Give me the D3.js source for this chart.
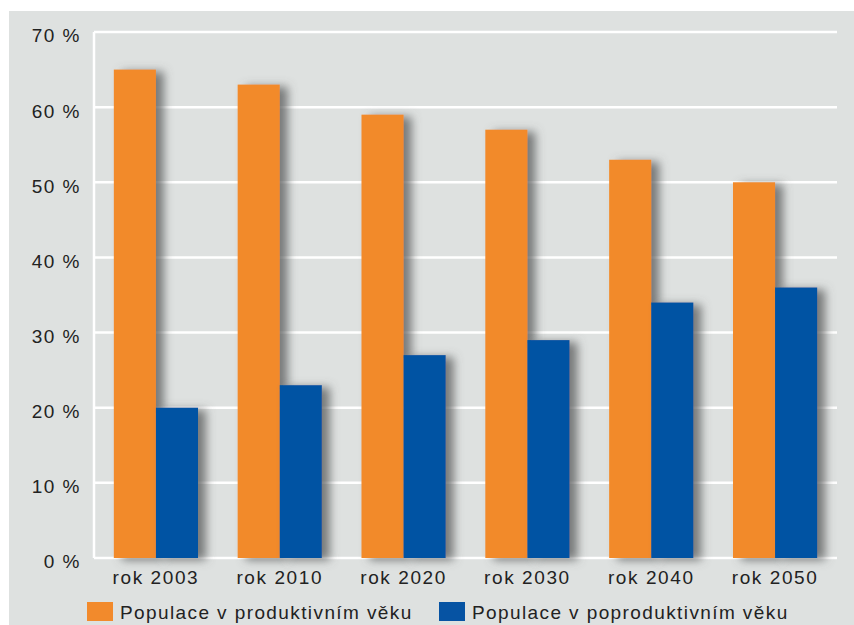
<!DOCTYPE html>
<html>
<head>
<meta charset="utf-8">
<script src="https://cdn.jsdelivr.net/npm/d3@7"></script>
<style>
  body { margin: 0; background: #fff; }
  text { font-family: "Liberation Sans", Arial, sans-serif; fill: #222; }
</style>
</head>
<body>
<svg id="vis"></svg>
<script>
// Datos del gráfico
const roky = ["rok 2003", "rok 2010", "rok 2020", "rok 2030", "rok 2040", "rok 2050"];
const produktivni = [65, 63, 59, 57, 53, 50];
const poproduktivni = [20, 23, 27, 29, 34, 36];
const serie = ["Populace v produktivním věku", "Populace v poproduktivním věku"];
const ticksY = [0, 10, 20, 30, 40, 50, 60, 70];

const WIDTH = 854;
const HEIGHT = 625;
const MARGIN = { top: 32, bottom: 67, left: 94, right: 17 };
const COLORS = ["#F28A2C", "#0653A3"];
const FUENTE = 19;

const svg = d3.select("#vis")
    .attr("width", WIDTH)
    .attr("height", HEIGHT);

// sombra de las barras
const defs = svg.append("defs");
defs.append("filter")
    .attr("id", "sombra")
    .attr("x", "-20%").attr("y", "-10%")
    .attr("width", "170%").attr("height", "130%")
    .append("feDropShadow")
    .attr("dx", 8).attr("dy", 2)
    .attr("stdDeviation", 5)
    .attr("flood-color", "#5f6161")
    .attr("flood-opacity", 0.8);

// fondo gris
svg.append("rect")
    .attr("x", 9).attr("y", 11)
    .attr("width", WIDTH - 9).attr("height", HEIGHT - 11)
    .attr("fill", "#DEE1E0");

const escalaY = d3.scaleLinear()
    .domain([0, 70])
    .range([HEIGHT - MARGIN.bottom, MARGIN.top]);

const escalaX = d3.scaleBand()
    .domain(roky)
    .range([MARGIN.left, WIDTH - MARGIN.right])
    .paddingInner(0.32)
    .paddingOuter(0.16);

const escalaSub = d3.scaleBand()
    .domain([0, 1])
    .range([0, escalaX.bandwidth()]);

// rejilla
svg.append("g")
    .selectAll("line")
    .data(ticksY)
    .join("line")
    .attr("x1", MARGIN.left)
    .attr("x2", WIDTH - MARGIN.right)
    .attr("y1", d => escalaY(d))
    .attr("y2", d => escalaY(d))
    .attr("stroke", "#fff")
    .attr("stroke-width", 2.5);

svg.append("line")
    .attr("x1", MARGIN.left).attr("x2", MARGIN.left)
    .attr("y1", escalaY(70)).attr("y2", escalaY(0))
    .attr("stroke", "#fff")
    .attr("stroke-width", 2.5);

// eje Y
const ejeY = d3.axisLeft(escalaY)
    .tickValues(ticksY)
    .tickSize(0)
    .tickPadding(13)
    .tickFormat(d => d + " %");
svg.append("g")
    .attr("transform", `translate(${MARGIN.left},0)`)
    .call(ejeY)
    .call(g => g.select(".domain").remove())
    .selectAll("text")
    .attr("dy", "0.52em")
    .attr("font-size", FUENTE)
    .attr("letter-spacing", 1.5)
    .style("font-family", "Liberation Sans, Arial, sans-serif")
    .attr("fill", "#222");

// eje X
const ejeX = d3.axisBottom(escalaX).tickSize(0).tickPadding(13);
svg.append("g")
    .attr("transform", `translate(0,${escalaY(0)})`)
    .call(ejeX)
    .call(g => g.select(".domain").remove())
    .selectAll("text")
    .attr("font-size", FUENTE)
    .attr("letter-spacing", 1.6)
    .style("font-family", "Liberation Sans, Arial, sans-serif")
    .attr("fill", "#222");

// barras
const grupos = svg.append("g")
    .selectAll("g")
    .data(roky)
    .join("g")
    .attr("transform", d => `translate(${escalaX(d)},0)`);

[produktivni, poproduktivni].forEach((valores, s) => {
    grupos.append("rect")
        .attr("x", escalaSub(s))
        .attr("width", escalaSub.bandwidth())
        .attr("y", (d, i) => escalaY(valores[i]))
        .attr("height", (d, i) => escalaY(0) - escalaY(valores[i]))
        .attr("fill", COLORS[s])
        .attr("filter", "url(#sombra)");
});

// leyenda
const leyendaX = [87, 439];
const leyenda = svg.append("g")
    .selectAll("g")
    .data(serie)
    .join("g")
    .attr("transform", (d, i) => `translate(${leyendaX[i]},602)`);

leyenda.append("rect")
    .attr("width", 26)
    .attr("height", 19)
    .attr("fill", (d, i) => COLORS[i]);

leyenda.append("text")
    .attr("x", 33)
    .attr("y", 17)
    .attr("font-size", FUENTE)
    .attr("letter-spacing", 1.4)
    .text(d => d);
</script>
</body>
</html>
